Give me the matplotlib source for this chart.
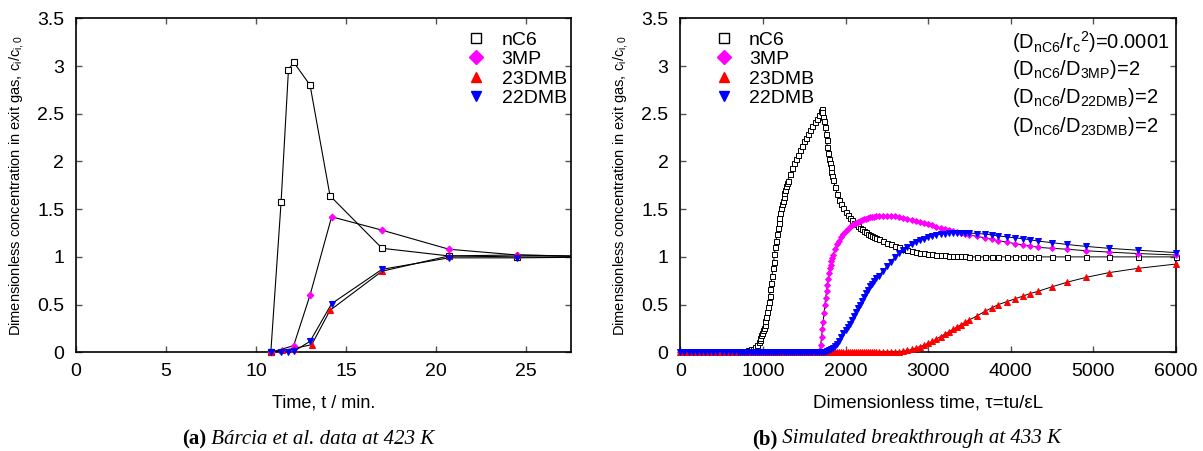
import matplotlib
matplotlib.use('Agg')
import matplotlib.pyplot as plt
from matplotlib.lines import Line2D

plt.rcParams['font.family'] = ['Liberation Sans', 'DejaVu Sans']
plt.rcParams['mathtext.fontset'] = 'custom'
plt.rcParams['mathtext.rm'] = 'Liberation Sans'
plt.rcParams['mathtext.it'] = 'Liberation Sans:italic'
plt.rcParams['mathtext.bf'] = 'Liberation Sans:bold'

# ---- (a) experimental data, Barcia et al. 423 K ----
t_nc6 = [10.82, 11.39, 11.80, 12.09, 13.00, 14.11, 17.00, 20.72, 24.50, 30.0]
c_nc6 = [0.0, 1.57, 2.96, 3.04, 2.80, 1.64, 1.09, 1.01, 1.00, 1.0]
t_3mp = [10.82, 12.09, 13.00, 14.20, 17.00, 20.72, 24.50, 30.0]
c_3mp = [0.0, 0.07, 0.60, 1.42, 1.28, 1.08, 1.02, 1.0]
t_23 = [10.82, 11.46, 12.09, 13.09, 14.11, 17.00, 20.72, 24.50, 30.0]
c_23 = [0.0, 0.02, 0.04, 0.08, 0.44, 0.85, 1.01, 1.02, 1.0]
t_22 = [10.82, 11.39, 11.80, 12.09, 13.00, 14.20, 17.00, 20.72, 24.50, 30.0]
c_22 = [0.0, 0.0, 0.0, 0.01, 0.115, 0.51, 0.87, 0.99, 0.99, 1.0]

# ---- (b) simulated breakthrough, 433 K ----
tail = [3587, 3688, 3768, 3849, 3950, 4050, 4151, 4232, 4333, 4494,
        4684, 4910, 5189, 5540, 6000]
tau = (list(range(0, 700, 50)) + list(range(700, 2401, 25))
       + list(range(2450, 3501, 50)) + tail)
tau_nc6 = (list(range(0, 700, 50)) + list(range(700, 926, 25))
           + list(range(950, 1301, 10)) + list(range(1325, 1701, 25))
           + list(range(1710, 1851, 10)) + list(range(1875, 2401, 25))
           + list(range(2450, 3501, 50)) + tail)
tau_3mp = (list(range(0, 700, 50)) + list(range(700, 1676, 25))
           + list(range(1680, 1851, 10)) + list(range(1875, 2401, 25))
           + list(range(2450, 3501, 50)) + tail)

sim_nc6 = [0.0, 0.0, 0.0, 0.0, 0.0, 0.0, 0.0, 0.0, 0.0, 0.0, 0.0, 0.0, 0.0, 0.0,
           0.0, 0.0, 0.005, 0.01, 0.015, 0.02, 0.03, 0.04, 0.06, 0.08,
           0.11, 0.13, 0.15, 0.18, 0.20, 0.23, 0.26, 0.29, 0.33, 0.37,
           0.42, 0.47, 0.53, 0.59, 0.66, 0.73, 0.80, 0.88, 0.95, 1.03,
           1.10, 1.17, 1.24, 1.30, 1.36, 1.41, 1.46, 1.51, 1.55, 1.59,
           1.63, 1.67, 1.70, 1.74, 1.77, 1.80,
           1.87, 1.93, 1.98, 2.03, 2.07, 2.12, 2.16, 2.21, 2.25, 2.29,
           2.33, 2.37, 2.41, 2.45, 2.49, 2.53,
           2.55, 2.52, 2.47, 2.42, 2.36, 2.29, 2.22, 2.15, 2.09, 2.03,
           1.98, 1.94, 1.89, 1.85, 1.81,
           1.73, 1.66, 1.60, 1.55, 1.51, 1.47, 1.44, 1.41, 1.39, 1.36,
           1.34, 1.32, 1.30, 1.29, 1.27, 1.26, 1.24, 1.23, 1.22, 1.21, 1.20, 1.19,
           1.17, 1.15, 1.13, 1.11, 1.10, 1.08, 1.07, 1.06, 1.05, 1.04,
           1.04, 1.03, 1.03, 1.02, 1.02, 1.02, 1.01, 1.01, 1.01, 1.01, 1.01, 1.0,
           1.0, 1.0, 1.0, 1.0, 1.0, 1.0, 1.0, 1.0, 1.0, 1.0,
           1.0, 1.0, 1.0, 1.0, 1.0]

sim_3mp = [0.0, 0.0, 0.0, 0.0, 0.0, 0.0, 0.0, 0.0, 0.0, 0.0, 0.0, 0.0, 0.0, 0.0,
           0.0, 0.0, 0.0, 0.0, 0.0, 0.0, 0.0, 0.0, 0.0, 0.0,
           0.0, 0.0, 0.0, 0.0, 0.0, 0.0, 0.0, 0.0, 0.0, 0.0,
           0.0, 0.0, 0.0, 0.0, 0.0, 0.0, 0.0, 0.0, 0.0, 0.0,
           0.0, 0.0, 0.0, 0.0, 0.0, 0.0, 0.0, 0.0, 0.0, 0.0,
           0.0, 0.02, 0.08, 0.16, 0.24, 0.32, 0.41, 0.50, 0.57, 0.64,
           0.71, 0.77, 0.83, 0.88, 0.92, 0.96, 0.99, 1.02,
           1.08, 1.13, 1.17, 1.21, 1.24, 1.27, 1.29, 1.31, 1.33, 1.34,
           1.36, 1.37, 1.38, 1.39, 1.395, 1.40, 1.41, 1.415, 1.42, 1.42, 1.425, 1.425,
           1.43, 1.43, 1.43, 1.425, 1.42, 1.41, 1.40, 1.39, 1.38, 1.37,
           1.36, 1.345, 1.33, 1.315, 1.30, 1.29, 1.28, 1.27, 1.26, 1.25, 1.24, 1.23,
           1.215, 1.20, 1.185, 1.17, 1.155, 1.14, 1.125, 1.115, 1.10, 1.09,
           1.08, 1.065, 1.05, 1.035, 1.02]

sim_23 = [0.0, 0.0, 0.0, 0.0, 0.0, 0.0, 0.0, 0.0, 0.0, 0.0, 0.0, 0.0, 0.0, 0.0,
          0.0, 0.0, 0.0, 0.0, 0.0, 0.0, 0.0, 0.0, 0.0, 0.0,
          0.0, 0.0, 0.0, 0.0, 0.0, 0.0, 0.0, 0.0, 0.0, 0.0,
          0.0, 0.0, 0.0, 0.0, 0.0, 0.0, 0.0, 0.0, 0.0, 0.0,
          0.0, 0.0, 0.0, 0.0, 0.0, 0.0, 0.0, 0.0, 0.0, 0.0,
          0.0, 0.0, 0.0, 0.0, 0.0, 0.0, 0.0, 0.0, 0.0, 0.0,
          0.0, 0.0, 0.0, 0.0, 0.0, 0.0, 0.0, 0.0, 0.0, 0.0,
          0.0, 0.0, 0.0, 0.0, 0.0, 0.0, 0.0, 0.0, 0.0,
          0.0, 0.0, 0.002, 0.004, 0.007, 0.012, 0.02, 0.03, 0.045, 0.06,
          0.075, 0.095, 0.115, 0.14, 0.165, 0.19, 0.215, 0.24, 0.265, 0.29, 0.315, 0.34,
          0.38, 0.43, 0.465, 0.50, 0.53, 0.56, 0.59, 0.615, 0.64, 0.685,
          0.735, 0.785, 0.835, 0.88, 0.925]

sim_22 = [0.0, 0.0, 0.0, 0.0, 0.0, 0.0, 0.0, 0.0, 0.0, 0.0, 0.0, 0.0, 0.0, 0.0,
          0.0, 0.0, 0.0, 0.0, 0.0, 0.0, 0.0, 0.0, 0.0, 0.0,
          0.0, 0.0, 0.0, 0.0, 0.0, 0.0, 0.0, 0.0, 0.0, 0.0,
          0.0, 0.0, 0.0, 0.0, 0.0, 0.0, 0.0, 0.0, 0.0, 0.0,
          0.0, 0.0, 0.0, 0.0, 0.0, 0.0, 0.0, 0.0, 0.0, 0.0,
          0.0, 0.0, 0.005, 0.01, 0.02, 0.03, 0.05, 0.07, 0.09, 0.12,
          0.16, 0.20, 0.23, 0.265, 0.30, 0.34, 0.38, 0.42, 0.46, 0.50,
          0.54, 0.58, 0.62, 0.655, 0.69, 0.72, 0.75, 0.775, 0.80,
          0.85, 0.90, 0.95, 1.00, 1.04, 1.07, 1.10, 1.13, 1.155, 1.175,
          1.19, 1.205, 1.22, 1.23, 1.24, 1.245, 1.25, 1.255, 1.255, 1.255, 1.255, 1.25,
          1.245, 1.24, 1.23, 1.22, 1.21, 1.20, 1.19, 1.18, 1.165, 1.15,
          1.13, 1.11, 1.09, 1.07, 1.045]

labels = ['nC6', '3MP', '23DMB', '22DMB']
styles = [dict(marker='s', mfc='white', mec='black'),
          dict(marker='D', mfc='#ff00ff', mec='#ff00ff'),
          dict(marker='^', mfc='red', mec='red'),
          dict(marker='v', mfc='blue', mec='blue')]
ms_exp = [4.0, 3.4, 4.6, 4.6]
ms_sim = [3.6, 3.0, 4.2, 4.2]

ylab = 'Dimensionless concentration in exit gas, c$_\\mathrm{i}$/c$_\\mathrm{i,0}$'

fig = plt.figure(figsize=(12.03, 4.51), dpi=100)
ax1 = fig.add_axes([0.0632, 0.2188, 0.4115, 0.7406])
ax2 = fig.add_axes([0.5655, 0.2188, 0.4120, 0.7406])


def style_axes(ax):
    ax.set_ylim(0, 3.5)
    ax.set_yticks([0, 0.5, 1, 1.5, 2, 2.5, 3, 3.5])
    ax.set_yticklabels(['0', '0.5', '1', '1.5', '2', '2.5', '3', '3.5'])
    ax.tick_params(direction='in', length=4, width=1, color='#555555',
                   top=True, right=True, labelsize=14)
    ax.tick_params(axis='y', pad=8.5)
    ax.tick_params(axis='x', pad=7.5)
    for sp in ax.spines.values():
        sp.set_linewidth(1.2)
    ax.set_ylabel(ylab, fontsize=10.5)
    ax.yaxis.label.set_va('center')
    ax.yaxis.set_label_coords(-0.121, 0.5)
    ax.xaxis.label.set_va('center')
    ax.xaxis.set_label_coords(0.5, -0.152)


# (a)
exp_t = [t_nc6, t_3mp, t_23, t_22]
exp_c = [c_nc6, c_3mp, c_23, c_22]
for t, c in zip(exp_t, exp_c):
    ax1.plot(t, c, '-', color='black', lw=0.8)
for t, c, st, ms in zip(exp_t, exp_c, styles, ms_exp):
    ax1.plot(t[:-1], c[:-1], ls='none', marker=st['marker'], mfc=st['mfc'],
             mec=st['mec'], mew=0.8, ms=ms, clip_on=False, zorder=3)
ax1.set_xlim(0, 27.5)
ax1.set_xticks([0, 5, 10, 15, 20, 25])
style_axes(ax1)
ax1.set_xlabel('Time, t / min.', fontsize=13)

# (b)
sim_t = [tau_nc6, tau_3mp, tau, tau]
sim_c = [sim_nc6, sim_3mp, sim_23, sim_22]
for t, c, st, ms in zip(sim_t, sim_c, styles, ms_sim):
    ax2.plot(t, c, '-', color='black', lw=0.7, zorder=2, clip_on=False)
    ax2.plot(t, c, ls='none', marker=st['marker'], mfc=st['mfc'],
             mec=st['mec'], mew=0.7, ms=ms, clip_on=False, zorder=3)
ax2.set_xlim(0, 6000)
ax2.set_xticks([0, 1000, 2000, 3000, 4000, 5000, 6000])
style_axes(ax2)
ax2.set_xlabel('Dimensionless time, \u03c4=tu/\u03b5L', fontsize=13.5)

notes = ['$(\\mathrm{D_{nC6}/{r_c}^{2}})$=0.0001',
         '$(\\mathrm{D_{nC6}/D_{3MP}})$=2',
         '$(\\mathrm{D_{nC6}/D_{22DMB}})$=2',
         '$(\\mathrm{D_{nC6}/D_{23DMB}})$=2']
note_y = [0.910, 0.830, 0.745, 0.660]
for s, y in zip(notes, note_y):
    ax2.text(0.669, y, s, transform=ax2.transAxes,
             fontsize=14.5, va='baseline', ha='left')

# legends
for ax, x0 in [(ax1, 0.789), (ax2, 0.068)]:
    handles = [Line2D([], [], ls='none', marker=st['marker'], mfc=st['mfc'],
                      mec=st['mec'], mew=1.0, ms=7.5) for st in styles]
    ax.legend(handles, labels, loc='upper left', bbox_to_anchor=(x0, 0.962),
              frameon=False, fontsize=14, handlelength=1.0,
              handletextpad=0.8, labelspacing=0.1, borderpad=0,
              borderaxespad=0)

# captions
for x, tag, rest in [(182, '(a)', ' B\u00e1rcia et al. data at 423 K'),
                     (752, '(b)', ' Simulated breakthrough at 433 K')]:
    t1 = fig.text(x / 1203, 1 - 439 / 451, tag, fontsize=15, weight='bold',
                  family='Liberation Serif', va='center', ha='left')
    ax1.annotate(rest, xy=(1, 0.5), xycoords=t1, va='center', ha='left',
                 fontsize=15, style='italic', family='Liberation Serif',
                 annotation_clip=False)

fig.savefig('out.png', dpi=100)
